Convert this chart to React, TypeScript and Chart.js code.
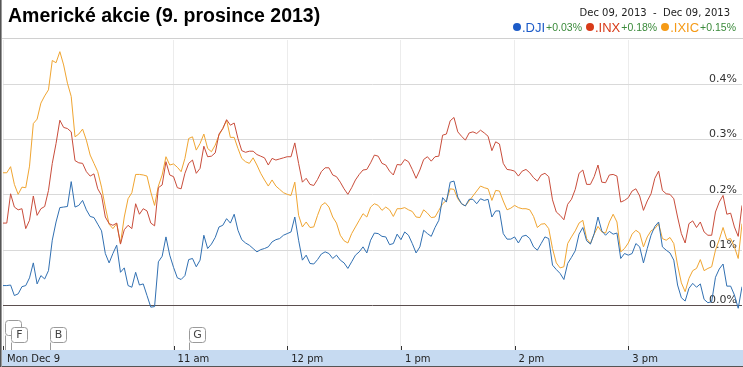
import React, { useEffect, useRef } from "react";
import { Chart, registerables } from "chart.js";

Chart.register(...registerables);

// minutes after 9:30 (2-minute sampling)
const minutes = Array.from({ length: 196 }, (_, i) => i * 2);

const seriesNames = [".DJI", ".INX", ".IXIC"];
const seriesChanges = ["+0.03%", "+0.18%", "+0.15%"];

const dji = [
  0.036, 0.036, 0.037, 0.018, 0.021, 0.034, 0.036, 0.05, 0.077, 0.039, 0.054, 0.048, 0.063, 0.118, 0.151, 0.177, 0.178, 0.179, 0.224, 0.178,
  0.181, 0.19, 0.173, 0.161, 0.159, 0.147, 0.135, 0.094, 0.077, 0.094, 0.109, 0.06, 0.068, 0.036, 0.033, 0.06, 0.037, 0.039, 0.018, -0.003,
  -0.002, 0.079, 0.089, 0.124, 0.091, 0.069, 0.05, 0.047, 0.054, 0.083,
  0.085, 0.07, 0.082, 0.127, 0.103, 0.111, 0.123, 0.142, 0.145, 0.157, 0.149, 0.165, 0.136, 0.119, 0.113, 0.109, 0.103, 0.097, 0.101, 0.103,
  0.106, 0.115, 0.119, 0.121, 0.127, 0.13, 0.133, 0.16, 0.118, 0.082, 0.091, 0.076, 0.075, 0.083, 0.093, 0.097, 0.094, 0.085, 0.091, 0.082,
  0.077, 0.067, 0.079, 0.091, 0.097, 0.106, 0.095, 0.118, 0.131,
  0.13, 0.125, 0.124, 0.11, 0.112, 0.129, 0.119, 0.133, 0.127, 0.112, 0.095, 0.106, 0.136, 0.13, 0.125, 0.141, 0.154, 0.195, 0.187, 0.223,
  0.225, 0.196, 0.184, 0.18, 0.192, 0.192, 0.184, 0.193, 0.19, 0.192, 0.16, 0.171, 0.171, 0.13, 0.12, 0.12, 0.124, 0.113, 0.125, 0.127,
  0.121, 0.106, 0.1, 0.112, 0.124, 0.121, 0.073, 0.065, 0.058,
  0.047, 0.076, 0.087, 0.099, 0.129, 0.141, 0.117, 0.111, 0.13, 0.16, 0.135, 0.127, 0.134, 0.129, 0.131, 0.085, 0.094, 0.091, 0.094, 0.112,
  0.106, 0.077, 0.103, 0.127, 0.143, 0.151, 0.106, 0.1, 0.095, 0.082, 0.037, 0.014, 0.008, 0.031, 0.04, 0.033, 0.039, 0.011, 0.005, 0.007,
  0.051, 0.066, 0.075, 0.035, 0.035, 0.019, -0.005, 0.034,
];

const inx = [
  0.149, 0.149, 0.202, 0.178, 0.173, 0.175, 0.139, 0.154, 0.198, 0.163, 0.175, 0.179, 0.208, 0.257, 0.293, 0.335, 0.322, 0.32, 0.314, 0.262,
  0.258, 0.257, 0.242, 0.234, 0.238, 0.211, 0.199, 0.16, 0.148, 0.145, 0.149, 0.111, 0.137, 0.145, 0.139, 0.184, 0.165, 0.175, 0.171, 0.149,
  0.144, 0.213, 0.218, 0.26, 0.236, 0.233, 0.213, 0.211, 0.239, 0.257,
  0.263, 0.239, 0.248, 0.288, 0.269, 0.27, 0.276, 0.31, 0.32, 0.336, 0.326, 0.33, 0.302, 0.28, 0.277, 0.279, 0.279, 0.273, 0.27, 0.267,
  0.254, 0.266, 0.263, 0.265, 0.267, 0.269, 0.269, 0.294, 0.257, 0.223, 0.23, 0.219, 0.217, 0.228, 0.242, 0.249, 0.249, 0.236, 0.233, 0.223,
  0.211, 0.201, 0.213, 0.227, 0.237, 0.245, 0.246, 0.258, 0.272,
  0.27, 0.257, 0.254, 0.243, 0.236, 0.255, 0.254, 0.264, 0.26, 0.246, 0.23, 0.245, 0.264, 0.269, 0.261, 0.269, 0.27, 0.308, 0.31, 0.334,
  0.34, 0.314, 0.306, 0.299, 0.312, 0.314, 0.311, 0.317, 0.312, 0.306, 0.28, 0.296, 0.292, 0.257, 0.246, 0.245, 0.243, 0.234, 0.243, 0.246,
  0.24, 0.231, 0.225, 0.236, 0.239, 0.233, 0.191, 0.169, 0.163,
  0.155, 0.183, 0.192, 0.21, 0.239, 0.245, 0.219, 0.219, 0.233, 0.254, 0.223, 0.222, 0.236, 0.237, 0.234, 0.187, 0.19, 0.195, 0.207, 0.211,
  0.198, 0.172, 0.189, 0.202, 0.23, 0.243, 0.208, 0.202, 0.201, 0.193, 0.16, 0.13, 0.113, 0.148, 0.153, 0.141, 0.151, 0.133, 0.127, 0.127,
  0.169, 0.187, 0.199, 0.165, 0.167, 0.142, 0.125, 0.181,
];

const ixic = [
  0.24, 0.24, 0.251, 0.219, 0.201, 0.214, 0.213, 0.252, 0.329, 0.337, 0.366, 0.379, 0.39, 0.443, 0.439, 0.459, 0.435, 0.402, 0.378, 0.305,
  0.31, 0.319, 0.299, 0.272, 0.257, 0.242, 0.214, 0.178, 0.147, 0.139, 0.148, 0.112, 0.16, 0.193, 0.204, 0.237, 0.237, 0.236, 0.234, 0.205,
  0.181, 0.216, 0.236, 0.269, 0.254, 0.256, 0.25, 0.242, 0.266, 0.302,
  0.305, 0.281, 0.293, 0.31, 0.284, 0.278, 0.29, 0.308, 0.32, 0.335, 0.304, 0.304, 0.284, 0.266, 0.26, 0.257, 0.267, 0.254, 0.239, 0.227,
  0.216, 0.227, 0.216, 0.21, 0.204, 0.201, 0.199, 0.223, 0.163, 0.142, 0.151, 0.141, 0.142, 0.163, 0.181, 0.186, 0.178, 0.16, 0.149, 0.127,
  0.117, 0.113, 0.13, 0.142, 0.154, 0.166, 0.16, 0.178, 0.184,
  0.181, 0.172, 0.178, 0.173, 0.161, 0.175, 0.175, 0.177, 0.173, 0.17, 0.16, 0.159, 0.173, 0.167, 0.159, 0.16, 0.172, 0.184, 0.19, 0.211,
  0.21, 0.193, 0.184, 0.18, 0.189, 0.198, 0.207, 0.216, 0.213, 0.211, 0.19, 0.208, 0.207, 0.189, 0.173, 0.176, 0.181, 0.177, 0.175, 0.175,
  0.173, 0.161, 0.141, 0.147, 0.148, 0.139, 0.103, 0.077, 0.068,
  0.07, 0.112, 0.124, 0.135, 0.149, 0.154, 0.121, 0.112, 0.129, 0.143, 0.133, 0.131, 0.151, 0.165, 0.151, 0.097, 0.103, 0.113, 0.129, 0.136,
  0.131, 0.106, 0.124, 0.135, 0.139, 0.148, 0.121, 0.118, 0.123, 0.112, 0.073, 0.041, 0.025, 0.049, 0.063, 0.067, 0.083, 0.063, 0.067, 0.07,
  0.1, 0.119, 0.141, 0.119, 0.121, 0.106, 0.085, 0.148,
];

const xTickMinutes = [0, 90, 150, 210, 270, 330];
const xTickLabels = ["Mon Dec 9", "11 am", "12 pm", "1 pm", "2 pm", "3 pm"];
const yTickValues = [0, 0.1, 0.2, 0.3, 0.4];

const flagMinutes = [1, 4, 25, 98];
const flagLabels = ["", "F", "B", "G"];
const flagRows = [0, 1, 1, 1];

const lineColors = ["#3170b2", "#c94d3b", "#f0a531"];
const legendColors = ["#1c5bc8", "#d83a18", "#f59a16"];
const seriesData = [dji, inx, ixic];

const W = 743;
const H = 367;

const decorPlugin = {
  id: "decor",
  beforeDraw(chart: any) {
    const ctx = chart.ctx;
    ctx.save();
    ctx.fillStyle = "#ffffff";
    ctx.fillRect(0, 0, W, H);
    ctx.fillStyle = "#c6daf1";
    ctx.fillRect(0, 350, W, 16);
    ctx.fillStyle = "#555555";
    ctx.fillRect(0, 366, W, 1);
    ctx.fillStyle = "#d0d0d0";
    ctx.fillRect(0, 38, W, 1);
    ctx.fillStyle = "#555555";
    ctx.fillRect(0, 0, 1, H);
    ctx.fillStyle = "#9a9a9a";
    ctx.fillRect(1, 0, 1, H);
    ctx.restore();
  },
  afterDatasetsDraw(chart: any) {
    const ctx = chart.ctx;
    const xs = chart.scales.x;
    ctx.save();
    ctx.strokeStyle = "#333";
    ctx.lineWidth = 1;
    xTickMinutes.forEach((m) => {
      const x = Math.round(xs.getPixelForValue(m)) + 0.5;
      ctx.beginPath();
      ctx.moveTo(x, 346);
      ctx.lineTo(x, 350);
      ctx.stroke();
    });
    flagMinutes.forEach((m, i) => {
      const x = Math.round(xs.getPixelForValue(m)) + 0.5;
      const top = flagRows[i] === 0 ? 320.5 : 327.5;
      const w = 16;
      const h = 15;
      ctx.strokeStyle = "#9a9a9a";
      ctx.beginPath();
      ctx.moveTo(x, top + h);
      ctx.lineTo(x, 350);
      ctx.stroke();
      ctx.fillStyle = "#ffffff";
      ctx.beginPath();
      ctx.roundRect(x, top, w, h, 3);
      ctx.fill();
      ctx.stroke();
      if (flagLabels[i]) {
        ctx.fillStyle = "#444";
        ctx.font = '11px "DejaVu Sans"';
        ctx.textAlign = "center";
        ctx.textBaseline = "middle";
        ctx.fillText(flagLabels[i], x + w / 2, top + h / 2 + 0.5);
      }
    });
    ctx.restore();
  },
};

export default function App() {
  const ref = useRef<HTMLCanvasElement>(null);
  useEffect(() => {
    if (!ref.current) return;
    const chart = new Chart(ref.current, {
      type: "line",
      data: {
        datasets: seriesData.map((arr, k) => ({
          label: seriesNames[k],
          data: minutes.map((m, i) => ({ x: m, y: arr[i] })),
          borderColor: lineColors[k],
          borderWidth: 1,
          pointRadius: 0,
          tension: 0,
          fill: false,
        })),
      },
      options: {
        animation: false,
        responsive: false,
        devicePixelRatio: 1,
        layout: { padding: { left: 2, right: 1, top: 40, bottom: 0 } },
        plugins: { legend: { display: false }, tooltip: { enabled: false } },
        scales: {
          x: {
            type: "linear",
            min: 0,
            max: 390,
            position: "bottom",
            afterBuildTicks: (s: any) => {
              s.ticks = xTickMinutes.map((v) => ({ value: v }));
            },
            afterFit: (s: any) => {
              s.height = 17;
            },
            ticks: {
              callback: (v: any) => {
                const i = xTickMinutes.indexOf(Number(v));
                return i >= 0 ? xTickLabels[i] : "";
              },
              align: "start",
              labelOffset: 4,
              padding: 3,
              autoSkip: false,
              maxRotation: 0,
              font: { family: "DejaVu Sans", size: 10 },
              color: "#222",
            },
            grid: { color: "#ececec", drawTicks: false, lineWidth: 1 },
            border: { display: false },
          },
          y: {
            type: "linear",
            position: "right",
            min: -0.0805,
            max: 0.4801,
            afterBuildTicks: (s: any) => {
              s.ticks = yTickValues.map((v) => ({ value: v }));
            },
            afterFit: (s: any) => {
              s.width = 0;
            },
            ticks: {
              mirror: true,
              padding: -5,
              labelOffset: -5,
              callback: (v: any) => Number(v).toFixed(1) + "%",
              font: { family: "DejaVu Sans", size: 11 },
              color: "#333",
            },
            grid: {
              color: (c: any) => (c.tick && c.tick.value === 0 ? "#5b4f4f" : "#d9d9d9"),
              drawTicks: false,
              lineWidth: 1,
            },
            border: { display: false },
          },
        },
      } as any,
      plugins: [decorPlugin],
    });
    return () => chart.destroy();
  }, []);

  return (
    <div style={{ position: "fixed", left: 0, top: 0, width: W, height: H, background: "#fff", overflow: "hidden" }}>
      <canvas ref={ref} width={W} height={H} style={{ position: "absolute", left: 0, top: 0, width: W, height: H }} />
      <div
        style={{
          position: "absolute",
          left: 8,
          top: 5,
          font: 'bold 19.5px "Liberation Sans", Arial, sans-serif',
          lineHeight: "20px",
          color: "#000",
          whiteSpace: "nowrap",
        }}
      >
        Americké akcie (9. prosince 2013)
      </div>
      <div
        style={{
          position: "absolute",
          right: 13,
          top: 7,
          font: '10px "DejaVu Sans", sans-serif',
          lineHeight: "12px",
          color: "#222",
          whiteSpace: "pre",
        }}
      >
        {"Dec 09, 2013  -  Dec 09, 2013"}
      </div>
      <div
        style={{
          position: "absolute",
          right: 7,
          top: 20,
          height: 14,
          display: "flex",
          alignItems: "center",
          whiteSpace: "nowrap",
        }}
      >
        {seriesNames.map((n, k) => (
          <span key={n} style={{ display: "flex", alignItems: "center", marginLeft: k === 0 ? 0 : 4 }}>
            <span
              style={{
                display: "inline-block",
                width: 8,
                height: 8,
                borderRadius: 4,
                background: legendColors[k],
                marginRight: 1,
              }}
            />
            <span style={{ font: '13px "Liberation Sans", Arial, sans-serif', color: legendColors[k], marginRight: 1 }}>{n}</span>
            <span style={{ font: '10.5px "Liberation Sans", Arial, sans-serif', color: "#3a8a3a" }}>{seriesChanges[k]}</span>
          </span>
        ))}
      </div>
    </div>
  );
}
